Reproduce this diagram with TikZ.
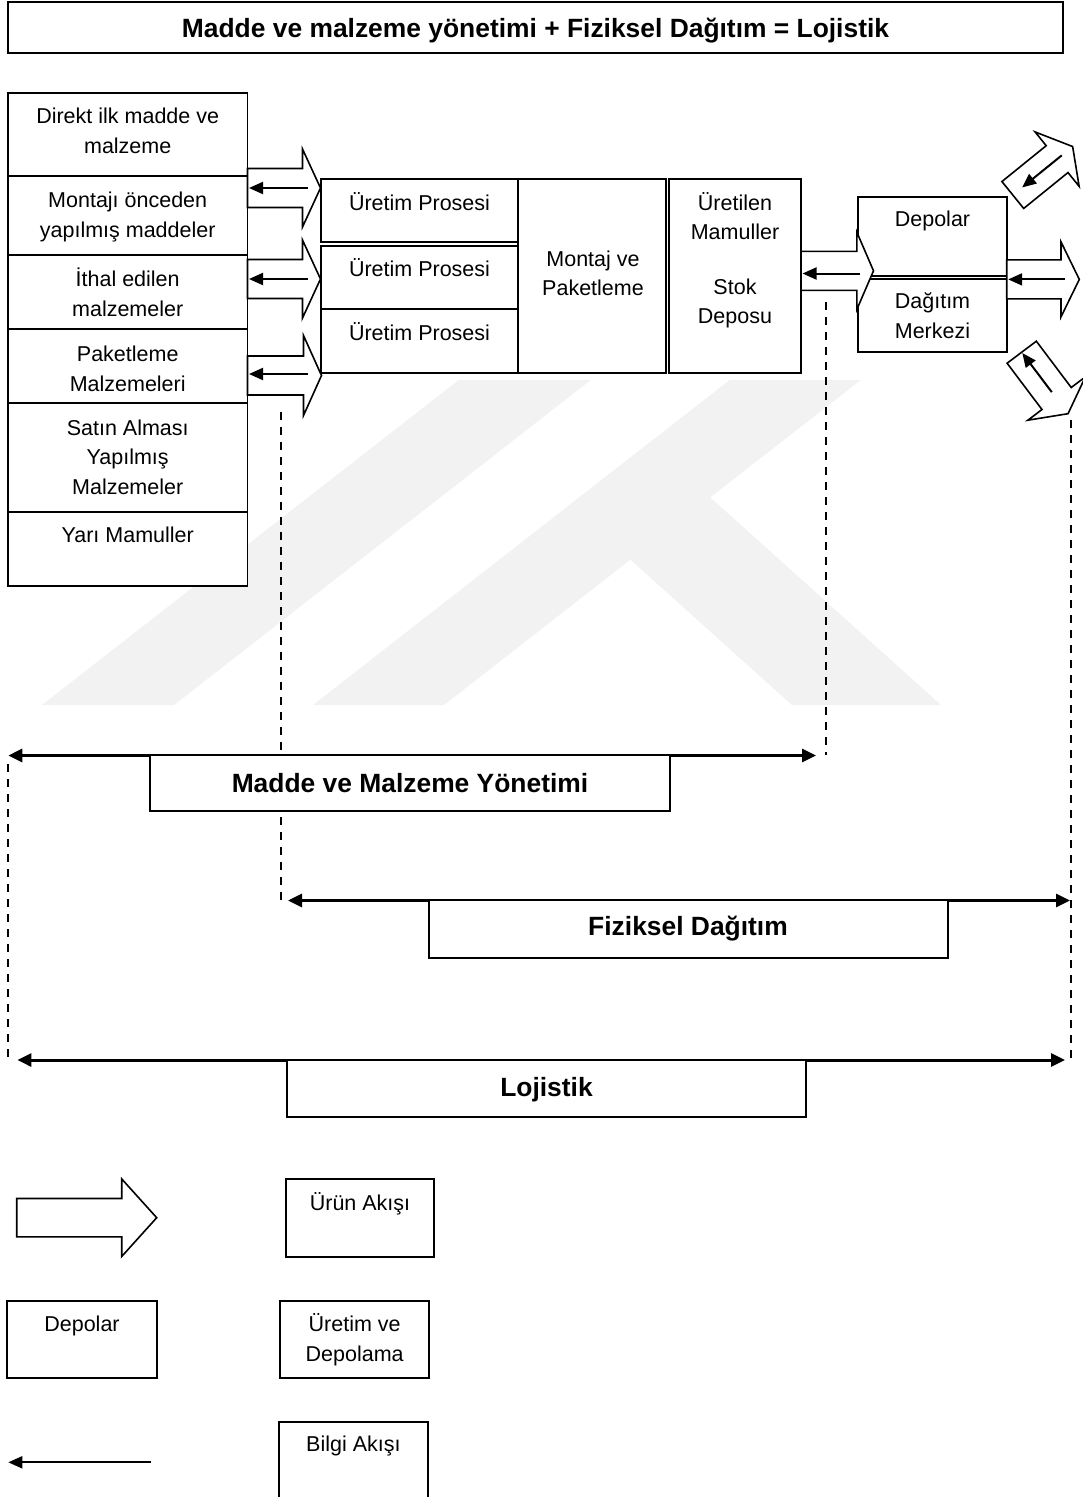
\documentclass[tikz,border=0pt]{standalone}
\usepackage{fontspec}
\setmainfont{Liberation Sans}
\usetikzlibrary{arrows.meta}

\tikzset{
  box/.style={draw, line width=1.8pt, fill=white, inner sep=0pt, outer sep=0pt, anchor=north west},
  txt/.style={inner sep=0pt, anchor=north, align=center, font=\fontsize{21.5}{29.5}\selectfont},
  heading/.style={inner sep=0pt, anchor=base, font=\bfseries\fontsize{26.4}{30}\selectfont},
  info/.style={line width=2pt, -{Triangle[length=14pt,width=12pt]}},
  span/.style={line width=3pt, {Triangle[length=14pt,width=13pt]}-{Triangle[length=14pt,width=13pt]}},
  guide/.style={line width=1.2pt, dash pattern=on 8pt off 7pt},
  flow/.style={draw, line width=1.6pt, fill=white, line join=miter, miter limit=20},
  wm/.style={fill=black!5, draw=none},
}

% rectangle node from its top-left to its bottom-right corner
\newcommand\rbox[5]{\node[box, minimum width={#4-#2}, minimum height={#5-#3}] (#1) at (#2,#3) {};}
% hollow product-flow arrow: back midpoint x, y, angle, length, head length, half shaft, half head
\newcommand\flowarrow[7]{%
  \begin{scope}[shift={(#1,#2)}, rotate=#3]
    \draw[flow] (0,-#6) -- ({#4-#5},-#6) -- ({#4-#5},-#7) -- (#4,0) -- ({#4-#5},#7) -- ({#4-#5},#6) -- (0,#6) -- cycle;
  \end{scope}}
% information-flow arrow along the same axis: x, y, angle, from, to
\newcommand\infoarrow[5]{%
  \begin{scope}[shift={(#1,#2)}, rotate=#3]
    \draw[info] (#4,0) -- (#5,0);
  \end{scope}}

\begin{document}
\begin{tikzpicture}[x=1pt, y=-1pt]
\useasboundingbox (0,0) rectangle (1083,1497);
\fill[white] (0,0) rectangle (1083,1497);
\begin{scope}
\clip (0,0) rectangle (1083,1497);

% faint background emblem: two slanted bands, the second with a leg
\fill[wm] (42,705) -- (174,705) -- (590.7,380) -- (458.7,380) -- cycle;
\fill[wm] (313,705) -- (729.7,380) -- (860.7,380) -- (710.2,497.4) -- (941,705)
          -- (792,705) -- (630.4,559.6) -- (444,705) -- cycle;

% title
\rbox{title}{8}{2}{1063}{53}
\node[heading] (titletext) at (535.5,37.5) {Madde ve malzeme yönetimi + Fiziksel Dağıtım = Lojistik};

% dashed guides
\coordinate (g1a) at (281,412);  \coordinate (g1b) at (281,905);
\coordinate (g2a) at (826,302);  \coordinate (g2b) at (826,755);
\coordinate (g3a) at (8,764);    \coordinate (g3b) at (8,1060);
\coordinate (g4a) at (1071,420); \coordinate (g4b) at (1071,1060);
\draw[guide] (g1a) -- (g1b);
\draw[guide] (g2a) -- (g2b);
\draw[guide] (g3a) -- (g3b);
\draw[guide] (g4a) -- (g4b);

% inputs
\rbox{in1}{8}{93.3}{247.5}{175.7}
\rbox{in2}{8}{175.7}{247.5}{255}
\rbox{in3}{8}{255}{247.5}{329.3}
\rbox{in4}{8}{329.3}{247.5}{403.3}
\rbox{in5}{8}{403.3}{247.5}{511.7}
\rbox{in6}{8}{511.7}{247.5}{586}
\node[txt] (in1t) at (127.7,102.3) {\rule{0pt}{21pt}Direkt ilk madde ve\\malzeme};
\node[txt] (in2t) at (127.7,186.3) {\rule{0pt}{21pt}Montajı önceden\\yapılmış maddeler};
\node[txt] (in3t) at (127.7,265.7) {\rule{0pt}{21pt}İthal edilen\\malzemeler};
\node[txt] (in4t) at (127.7,340.7) {\rule{0pt}{21pt}Paketleme\\Malzemeleri};
\node[txt] (in5t) at (127.7,414) {\rule{0pt}{21pt}Satın Alması\\Yapılmış\\Malzemeler};
\node[txt] (in6t) at (127.7,521.7) {\rule{0pt}{21pt}Yarı Mamuller};

% production
\rbox{pr1}{320.7}{179.3}{518.3}{241.7}
\rbox{pr2}{320.7}{245.7}{518.3}{309.3}
\rbox{pr3}{320.7}{309.3}{518.3}{372.7}
\rbox{asm}{518.3}{179.3}{666}{372.7}
\rbox{stk}{669}{179.3}{801}{372.7}
\node[txt] (pr1t) at (419.5,189) {\rule{0pt}{21pt}Üretim Prosesi};
\node[txt] (pr2t) at (419.5,255) {\rule{0pt}{21pt}Üretim Prosesi};
\node[txt] (pr3t) at (419.5,319) {\rule{0pt}{21pt}Üretim Prosesi};
\node[txt, font=\fontsize{21.5}{28.3}\selectfont] (asmt) at (593,245.7) {\rule{0pt}{21pt}Montaj ve\\Paketleme};
\node[txt, font=\fontsize{21.5}{28.7}\selectfont] (stkt) at (735,189.7) {\rule{0pt}{21pt}Üretilen\\Mamuller\\[26pt]Stok\\Deposu};

% distribution
\rbox{dep}{858.3}{197.3}{1006.7}{275.7}
\rbox{dgm}{858.3}{278.7}{1006.7}{351.7}
\node[txt] (dept) at (932.5,205.7) {\rule{0pt}{21pt}Depolar};
\node[txt, font=\fontsize{21.5}{30}\selectfont] (dgmt) at (932.5,287.3) {\rule{0pt}{21pt}Dağıtım\\Merkezi};

% product and information flows
\flowarrow{247.5}{188}{0}{73}{18}{19.5}{39}
\infoarrow{247.5}{188}{0}{60}{1.5}
\flowarrow{247.5}{279}{0}{73}{18}{19.5}{39}
\infoarrow{247.5}{279}{0}{60}{1.5}
\flowarrow{247.5}{375.5}{0}{74}{18}{19.5}{40}
\infoarrow{247.5}{374}{0}{60}{1.5}
\flowarrow{801}{270.8}{0}{72.5}{16.6}{19.5}{38.5}
\infoarrow{801}{273.5}{0}{59}{1.5}
\flowarrow{1006.7}{279.4}{0}{72.6}{18.3}{19.5}{37.5}
\infoarrow{1006.7}{279.4}{0}{58}{1.5}
\flowarrow{1012.8}{195}{39}{77}{20}{17.3}{35}
\infoarrow{1012.8}{195}{39}{63}{12}
\flowarrow{1021.7}{352.2}{-53}{77}{19}{18.3}{36}
\infoarrow{1021.7}{352.2}{-53}{50}{1}

% spans
\coordinate (mmL) at (8.3,755.5);  \coordinate (mmR) at (816,755.5);
\coordinate (fdL) at (288,900.5);  \coordinate (fdR) at (1070,900.5);
\coordinate (ljL) at (17.4,1060);  \coordinate (ljR) at (1065,1060);
\draw[span] (mmL) -- (mmR);
\draw[span] (fdL) -- (fdR);
\draw[span] (ljL) -- (ljR);
\rbox{mm}{150}{755.5}{670}{811}
\rbox{fd}{429}{900.5}{948}{958}
\rbox{lj}{287}{1060}{806}{1117}
\node[heading] (mmt) at (410,792) {Madde ve Malzeme Yönetimi};
\node[heading] (fdt) at (688,935) {Fiziksel Dağıtım};
\node[heading] (ljt) at (546.5,1096) {Lojistik};

% legend
\flowarrow{16.7}{1217.7}{0}{140}{35}{19.2}{38.8}
\rbox{lgA}{285.7}{1179}{434.3}{1256.7}
\node[txt] (lgAt) at (360,1189) {\rule{0pt}{21pt}Ürün Akışı};
\rbox{lgB}{7.3}{1301}{156.7}{1378.3}
\node[txt] (lgBt) at (82,1310.7) {\rule{0pt}{21pt}Depolar};
\rbox{lgC}{280}{1301}{429.3}{1378.3}
\node[txt, font=\fontsize{21.5}{30}\selectfont] (lgCt) at (354.7,1310.7) {\rule{0pt}{21pt}Üretim ve\\Depolama};
\coordinate (lgIa) at (150.7,1462.3); \coordinate (lgIb) at (8.3,1462.3);
\draw[info] (lgIa) -- (lgIb);
\rbox{lgD}{279}{1421.7}{427.7}{1520}
\node[txt] (lgDt) at (353.4,1430.7) {\rule{0pt}{21pt}Bilgi Akışı};
\end{scope}
\end{tikzpicture}
\end{document}
